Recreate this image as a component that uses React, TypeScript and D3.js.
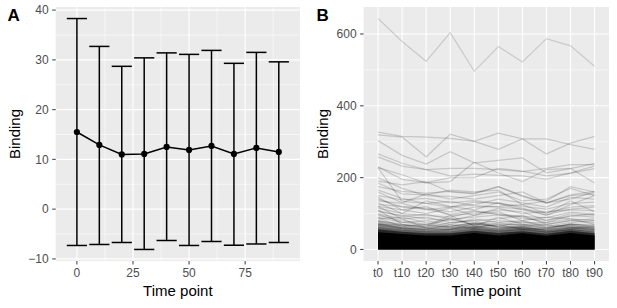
import React from "react";
import * as d3 from "d3";

// ---------- Panel A data ----------
const timePoints = [0, 10, 20, 30, 40, 50, 60, 70, 80, 90];
const meanBinding = [15.5, 12.9, 11.0, 11.1, 12.5, 11.9, 12.7, 11.1, 12.3, 11.5];
const upperBinding = [38.3, 32.7, 28.7, 30.4, 31.4, 31.1, 31.9, 29.3, 31.5, 29.6];
const lowerBinding = [-7.3, -7.1, -6.7, -8.1, -6.3, -7.3, -6.5, -7.25, -7.0, -6.7];
const xTicksA = [0, 25, 50, 75];
const xMinorA = [12.5, 37.5, 62.5, 87.5];
const yTicksA = [-10, 0, 10, 20, 30, 40];
const yMinorA = [-5, 5, 15, 25, 35];

// ---------- Panel B data ----------
const timeLabels = ["t0", "t10", "t20", "t30", "t40", "t50", "t60", "t70", "t80", "t90"];
const yTicksB = [0, 200, 400, 600];
const yMinorB = [100, 300, 500];
const outlierLine = [643, 579, 524, 604, 496, 565, 522, 587, 567, 510];
const proteinLines = [
  [327, 315, 313, 309, 301, 279, 308, 308, 292, 279],
  [319, 313, 258, 321, 301, 324, 308, 266, 296, 315],
  [303, 262, 238, 272, 241, 248, 255, 213, 225, 240],
  [266, 240, 222, 226, 226, 222, 217, 226, 236, 236],
  [228, 208, 185, 189, 243, 213, 189, 222, 226, 185],
  [258, 232, 222, 205, 210, 206, 205, 196, 213, 232],
  [230, 195, 186, 200, 200, 226, 218, 205, 212, 225],
  [227, 134, 128, 118, 132, 128, 110, 96, 112, 118],
  [190, 180, 189, 160, 155, 175, 150, 130, 150, 155],
  [175, 162, 157, 162, 157, 175, 148, 129, 152, 162],
  [185, 155, 152, 165, 160, 165, 125, 135, 175, 160],
  [160, 130, 155, 140, 150, 160, 135, 140, 170, 150],
  [200, 170, 150, 148, 140, 150, 160, 130, 140, 160],
  [165, 142, 128, 134, 122, 118, 112, 102, 118, 122],
  [150, 138, 142, 130, 136, 128, 120, 112, 128, 132],
  [140, 118, 112, 98, 108, 96, 92, 88, 104, 98],
  [135, 128, 110, 118, 125, 140, 130, 118, 145, 140],
  [125, 120, 115, 105, 118, 120, 125, 100, 135, 105],
  [130, 100, 135, 120, 110, 130, 115, 95, 125, 150],
  [120, 110, 100, 115, 95, 115, 100, 105, 110, 108],
  [145, 110, 120, 95, 100, 110, 105, 80, 100, 95],
  [115, 100, 95, 90, 105, 100, 90, 75, 95, 90],
  [108, 92, 98, 84, 90, 96, 86, 82, 92, 100],
  [105, 95, 85, 80, 95, 105, 80, 90, 85, 80],
  [100, 85, 90, 75, 80, 85, 95, 70, 80, 85],
  [120, 85, 60, 55, 72, 65, 78, 62, 68, 58],
  [98, 76, 68, 62, 60, 74, 66, 68, 62, 56],
  [95, 80, 70, 85, 70, 80, 75, 75, 85, 70],
  [90, 75, 80, 70, 85, 75, 80, 65, 75, 80],
  [88, 64, 58, 64, 74, 62, 60, 56, 72, 64],
  [85, 90, 75, 65, 75, 70, 70, 70, 80, 75],
  [110, 70, 65, 95, 65, 90, 70, 60, 70, 65],
  [80, 70, 60, 75, 80, 60, 65, 60, 70, 70],
  [78, 65, 70, 60, 70, 65, 60, 55, 65, 60],
  [75, 60, 55, 70, 60, 70, 55, 58, 60, 62],
  [70, 68, 62, 88, 66, 58, 64, 52, 58, 66],
  [72, 58, 52, 56, 60, 52, 56, 50, 56, 58],
  [68, 60, 56, 58, 64, 56, 60, 52, 60, 54],
  [66, 56, 50, 54, 58, 54, 58, 48, 54, 52],
];
// dense bulk of low-binding proteins: envelopes, from outermost to innermost
const bulkEnvelopes = [
  [82, 70, 64, 67, 74, 67, 72, 62, 72, 64],
  [72, 62, 56, 58, 65, 58, 63, 55, 63, 56],
  [63, 55, 50, 51, 58, 52, 57, 49, 57, 50],
  [56, 49, 45, 45, 52, 46, 51, 44, 52, 45],
];
const bulkSolid = [48, 43, 39, 39, 46, 39, 45, 38, 46, 39];

// ---------- layout ----------
const W = 617;
const H = 308;
const PA = { left: 55.7, right: 300, top: 7, bottom: 261 };
const PB = { left: 363.6, right: 609, top: 7, bottom: 261 };
const FONT = "'Liberation Sans', Arial, Helvetica, sans-serif";
const PANEL_BG = "#EBEBEB";
const TICK_COL = "#4D4D4D";
const TICK_TEXT = "#4D4D4D";
const ERR_HALF = 4.5;
const bulkOpacity = [0.14, 0.24, 0.36, 0.6];

function fmt(v: number) {
  return v < 0 ? "\u2212" + Math.abs(v) : String(v);
}

export default function App() {
  // Panel A scales
  const yMinA = d3.min(lowerBinding) as number;
  const yMaxA = d3.max(upperBinding) as number;
  const yPadA = (yMaxA - yMinA) * 0.05;
  const yA = d3.scaleLinear().domain([yMinA - yPadA, yMaxA + yPadA]).range([PA.bottom, PA.top]);
  const xMinA = (d3.min(timePoints) as number) - ERR_HALF;
  const xMaxA = (d3.max(timePoints) as number) + ERR_HALF;
  const xPadA = (xMaxA - xMinA) * 0.05;
  const xA = d3.scaleLinear().domain([xMinA - xPadA, xMaxA + xPadA]).range([PA.left, PA.right]);

  // Panel B scales
  const allB = [outlierLine, ...proteinLines].flat();
  const yMaxB = d3.max(allB) as number;
  const yPadB = yMaxB * 0.05;
  const yB = d3.scaleLinear().domain([0 - yPadB, yMaxB + yPadB]).range([PB.bottom, PB.top]);
  const xB = d3.scalePoint<string>().domain(timeLabels).range([PB.left, PB.right]).padding(0.6);

  const meanLine = d3
    .line<number>()
    .x((_, i) => xA(timePoints[i]))
    .y((d) => yA(d));

  const lineB = d3
    .line<number>()
    .x((_, i) => xB(timeLabels[i]) as number)
    .y((d) => yB(d));

  const areaB = d3
    .area<number>()
    .x((_, i) => xB(timeLabels[i]) as number)
    .y0(yB(0))
    .y1((d) => yB(d));

  const tickLen = 3.5;

  return (
    <svg
      width={W}
      height={H}
      style={{ position: "absolute", left: 0, top: 0, background: "white" }}
      fontFamily={FONT}
    >
      {/* ================= Panel A ================= */}
      <rect x={PA.left} y={PA.top} width={PA.right - PA.left} height={PA.bottom - PA.top} fill={PANEL_BG} />
      {yMinorA.map((v) => (
        <line key={"yma" + v} x1={PA.left} x2={PA.right} y1={yA(v)} y2={yA(v)} stroke="white" strokeWidth={0.55} />
      ))}
      {xMinorA.map((v) => (
        <line key={"xma" + v} y1={PA.top} y2={PA.bottom} x1={xA(v)} x2={xA(v)} stroke="white" strokeWidth={0.55} />
      ))}
      {yTicksA.map((v) => (
        <line key={"yga" + v} x1={PA.left} x2={PA.right} y1={yA(v)} y2={yA(v)} stroke="white" strokeWidth={1.1} />
      ))}
      {xTicksA.map((v) => (
        <line key={"xga" + v} y1={PA.top} y2={PA.bottom} x1={xA(v)} x2={xA(v)} stroke="white" strokeWidth={1.1} />
      ))}

      {/* error bars */}
      {timePoints.map((t, i) => (
        <g key={"eb" + t} stroke="black" strokeWidth={1.5}>
          <line x1={xA(t)} x2={xA(t)} y1={yA(lowerBinding[i])} y2={yA(upperBinding[i])} />
          <line x1={xA(t - ERR_HALF)} x2={xA(t + ERR_HALF)} y1={yA(upperBinding[i])} y2={yA(upperBinding[i])} />
          <line x1={xA(t - ERR_HALF)} x2={xA(t + ERR_HALF)} y1={yA(lowerBinding[i])} y2={yA(lowerBinding[i])} />
        </g>
      ))}
      <path d={meanLine(meanBinding) || ""} fill="none" stroke="black" strokeWidth={1.5} />
      {timePoints.map((t, i) => (
        <circle key={"pt" + t} cx={xA(t)} cy={yA(meanBinding[i])} r={3.1} fill="black" />
      ))}

      {/* axes A */}
      {yTicksA.map((v) => (
        <g key={"yta" + v}>
          <line x1={PA.left - tickLen} x2={PA.left} y1={yA(v)} y2={yA(v)} stroke={TICK_COL} strokeWidth={1.1} />
          <text x={PA.left - tickLen - 3.5} y={yA(v)} dy="0.36em" textAnchor="end" fontSize={12} fill={TICK_TEXT}>
            {fmt(v)}
          </text>
        </g>
      ))}
      {xTicksA.map((v) => (
        <g key={"xta" + v}>
          <line x1={xA(v)} x2={xA(v)} y1={PA.bottom} y2={PA.bottom + tickLen} stroke={TICK_COL} strokeWidth={1.1} />
          <text x={xA(v)} y={277} textAnchor="middle" fontSize={12} fill={TICK_TEXT}>
            {fmt(v)}
          </text>
        </g>
      ))}
      <text x={(PA.left + PA.right) / 2} y={296.3} textAnchor="middle" fontSize={15} fill="black">
        Time point
      </text>
      <text transform={`translate(19.5, ${(PA.top + PA.bottom) / 2}) rotate(-90)`} textAnchor="middle" fontSize={15} fill="black">
        Binding
      </text>
      <text x={7.5} y={20.7} fontSize={17} fontWeight="bold" fill="black">
        A
      </text>

      {/* ================= Panel B ================= */}
      <rect x={PB.left} y={PB.top} width={PB.right - PB.left} height={PB.bottom - PB.top} fill={PANEL_BG} />
      {yMinorB.map((v) => (
        <line key={"ymb" + v} x1={PB.left} x2={PB.right} y1={yB(v)} y2={yB(v)} stroke="white" strokeWidth={0.55} />
      ))}
      {yTicksB.map((v) => (
        <line key={"ygb" + v} x1={PB.left} x2={PB.right} y1={yB(v)} y2={yB(v)} stroke="white" strokeWidth={1.1} />
      ))}
      {timeLabels.map((t) => (
        <line key={"xgb" + t} y1={PB.top} y2={PB.bottom} x1={xB(t) as number} x2={xB(t) as number} stroke="white" strokeWidth={1.1} />
      ))}

      {/* dense bulk */}
      {bulkEnvelopes.map((env, k) => (
        <path key={"env" + k} d={areaB(env) || ""} fill="black" fillOpacity={bulkOpacity[k]} />
      ))}
      <path d={areaB(bulkSolid) || ""} fill="black" />

      {/* individual lines */}
      {proteinLines.map((ln, k) => (
        <path key={"pl" + k} d={lineB(ln) || ""} fill="none" stroke="black" strokeOpacity={0.16} strokeWidth={1.25} />
      ))}
      <path d={lineB(outlierLine) || ""} fill="none" stroke="black" strokeOpacity={0.14} strokeWidth={1.25} />

      {/* axes B */}
      {yTicksB.map((v) => (
        <g key={"ytb" + v}>
          <line x1={PB.left - tickLen} x2={PB.left} y1={yB(v)} y2={yB(v)} stroke={TICK_COL} strokeWidth={1.1} />
          <text x={PB.left - tickLen - 3.5} y={yB(v)} dy="0.36em" textAnchor="end" fontSize={12} fill={TICK_TEXT}>
            {fmt(v)}
          </text>
        </g>
      ))}
      {timeLabels.map((t) => (
        <g key={"xtb" + t}>
          <line x1={xB(t) as number} x2={xB(t) as number} y1={PB.bottom} y2={PB.bottom + tickLen} stroke={TICK_COL} strokeWidth={1.1} />
          <text x={xB(t) as number} y={277} textAnchor="middle" fontSize={12} fill={TICK_TEXT}>
            {t}
          </text>
        </g>
      ))}
      <text x={(PB.left + PB.right) / 2} y={296.3} textAnchor="middle" fontSize={15} fill="black">
        Time point
      </text>
      <text transform={`translate(327.5, ${(PB.top + PB.bottom) / 2}) rotate(-90)`} textAnchor="middle" fontSize={15} fill="black">
        Binding
      </text>
      <text x={316.5} y={20.7} fontSize={17} fontWeight="bold" fill="black">
        B
      </text>
    </svg>
  );
}
